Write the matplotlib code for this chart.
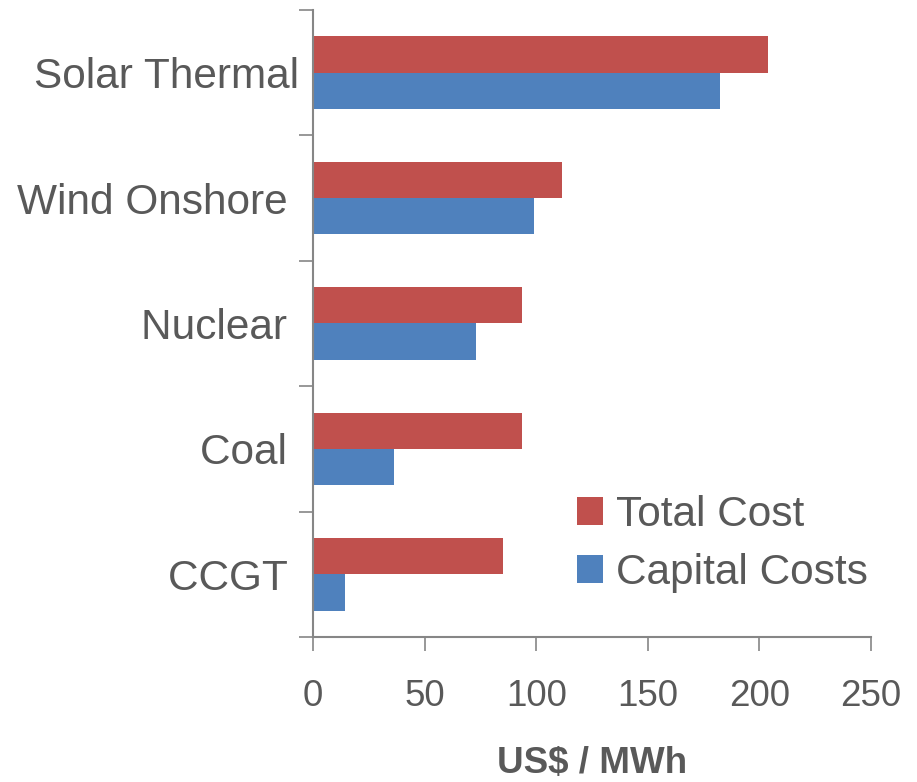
import matplotlib
matplotlib.use("Agg")
import matplotlib.pyplot as plt
import numpy as np

categories = ["Solar Thermal", "Wind Onshore ", "Nuclear ", "Coal ", "CCGT "]
total_cost = [203.7, 111.4, 93.5, 93.5, 85.3]
capital_costs = [182.2, 98.9, 72.9, 36.2, 14.5]
x_ticks = [0, 50, 100, 150, 200, 250]

plt.rcParams['font.family'] = ['Liberation Sans', 'DejaVu Sans']
text_color = "#595959"
axis_color = "#868686"
red = "#C0504D"
blue = "#4F81BD"

fig = plt.figure(figsize=(9.17, 7.82), dpi=100)
ax = fig.add_axes([313/917, 1-637/782, (871-313)/917, (637-10)/782])

y = np.arange(len(categories))
h = 0.29
ax.barh(y - h/2, total_cost, height=h, color=red, label="Total Cost")
ax.barh(y + h/2, capital_costs, height=h, color=blue, label="Capital Costs")

ax.set_ylim(len(categories) - 0.5, -0.5)
ax.set_xlim(0, 250)

ax.set_yticks(np.arange(-0.5, len(categories), 1.0))
ax.set_yticklabels([])
ax.set_yticks(y, minor=True)
ax.set_yticklabels(categories, minor=True, fontsize=30.5, color=text_color)
ax.tick_params(axis='y', which='major', length=10, width=1.2, color=axis_color, direction='out')
ax.tick_params(axis='y', which='minor', length=0, pad=10)

ax.set_xticks(x_ticks)
ax.set_xticklabels([str(t) for t in x_ticks], fontsize=26.5, color=text_color)
ax.tick_params(axis='x', length=10, width=1.2, color=axis_color, direction='out', pad=20)

for s in ['top', 'right']:
    ax.spines[s].set_visible(False)
for s in ['left', 'bottom']:
    ax.spines[s].set_color(axis_color)
    ax.spines[s].set_linewidth(1.5)

ax.set_xlabel("US$ / MWh", fontsize=26.5, fontweight='bold', color=text_color, labelpad=23)

leg = ax.legend(loc='upper left', bbox_to_anchor=(577/917, 1-495/782), bbox_transform=fig.transFigure,
                frameon=False, fontsize=30.5, handlelength=0.62, handleheight=0.62,
                handletextpad=0.3, labelspacing=0.42, borderpad=0, borderaxespad=0)
for t in leg.get_texts():
    t.set_color(text_color)

fig.savefig("out.png", dpi=100)
